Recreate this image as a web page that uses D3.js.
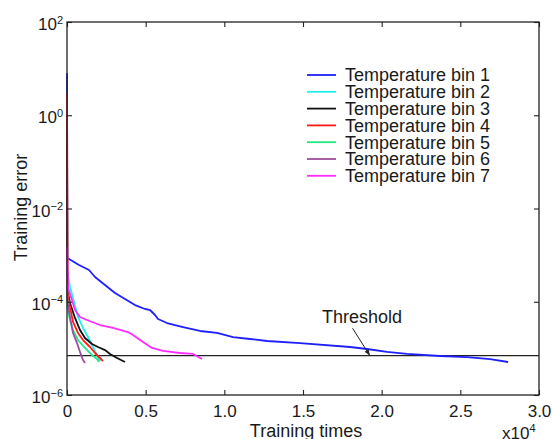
<!DOCTYPE html>
<html>
<head>
<meta charset="utf-8">
<script src="https://cdn.jsdelivr.net/npm/d3@7"></script>
<style>
  body { margin: 0; background: #fff; }
  text { font-family: "Liberation Sans", Arial, sans-serif; fill: #1a1a1a; }
</style>
</head>
<body>
<script>
var outerWidth = 552, outerHeight = 439;
var margin = { top: 22, right: 13, bottom: 44, left: 67 };
var width = outerWidth - margin.left - margin.right,
  height = outerHeight - margin.top - margin.bottom;

// ticks
var xTicks = [0, 5000, 10000, 15000, 20000, 25000, 30000];
var yTickExps = [-6, -4, -2, 0, 2];

// series: [training times, training error]
var seriesNames = ["Temperature bin 1", "Temperature bin 2", "Temperature bin 3", "Temperature bin 4",
  "Temperature bin 5", "Temperature bin 6", "Temperature bin 7"];
var seriesColors = ["#1f1fff", "#22f0f0", "#111111", "#ff1a1a", "#22e882", "#9c4f9c", "#ff2bff"];

var bin1 = [[0, 8], [25, 8.7e-4], [763, 6.14e-4], [1398, 4.8e-4], [1780, 3.4e-4], [2415, 2.29e-4],
  [3051, 1.54e-4], [3686, 1.15e-4], [4322, 8.5e-5], [4958, 7.0e-5], [5276, 6.65e-5], [5593, 5.2e-5],
  [5784, 4.27e-5], [6356, 3.5e-5], [7373, 2.87e-5], [8453, 2.36e-5], [9534, 2.14e-5], [10551, 1.75e-5],
  [11631, 1.59e-5], [12712, 1.44e-5], [14812, 1.30e-5], [17991, 1.07e-5], [19072, 9.7e-6],
  [20343, 8.4e-6], [21615, 7.6e-6], [23713, 6.86e-6], [25429, 6.5e-6], [26891, 5.9e-6], [28036, 5.1e-6]];
var bin2 = [[0, 1.0], [20, 4.35e-4], [191, 2.07e-4], [381, 1.20e-4], [699, 4.71e-5], [1017, 2.74e-5],
  [1335, 1.75e-5], [1653, 1.07e-5], [1907, 7.2e-6], [2097, 5.35e-6]];
var bin3 = [[0, 1.0], [20, 1.79e-4], [191, 9.4e-5], [508, 4.49e-5], [826, 2.48e-5], [1144, 1.67e-5],
  [1589, 1.24e-5], [1970, 1.07e-5], [2415, 9.2e-6], [2733, 7.6e-6], [3178, 6.22e-6], [3559, 5.35e-6],
  [3686, 5.1e-6]];
var bin4 = [[0, 3.0], [40, 1.5e-4], [191, 7.7e-5], [381, 3.68e-5], [699, 2.14e-5], [1017, 1.51e-5],
  [1462, 1.07e-5], [1780, 7.96e-6], [2097, 6.22e-6], [2288, 5.35e-6]];
var bin5 = [[0, 1.2e-3], [20, 7.7e-5], [191, 4.06e-5], [381, 2.48e-5], [699, 1.51e-5], [1144, 1.02e-5],
  [1589, 7.2e-6], [1907, 5.9e-6], [2034, 5.1e-6]];
var bin6 = [[0, 1.2e-3], [20, 1.09e-4], [191, 4.71e-5], [381, 2.14e-5], [636, 1.30e-5], [826, 8.4e-6],
  [1017, 5.63e-6], [1144, 4.86e-6]];
var bin7 = [[0, 1.5e-3], [60, 2.0e-4], [318, 1.09e-4], [508, 6.65e-5], [826, 4.71e-5], [1271, 4.06e-5],
  [2097, 3.17e-5], [2924, 2.74e-5], [3877, 2.24e-5], [4195, 1.94e-5], [4831, 1.37e-5], [5403, 1.02e-5],
  [6102, 8.8e-6], [7182, 7.96e-6], [8009, 7.6e-6], [8581, 5.9e-6]];
var allSeries = [bin1, bin2, bin3, bin4, bin5, bin6, bin7];

var threshold = 7e-6;
var thresholdLabel = { x: 18750, y: 3.5e-5 };      // text position (data units)
var thresholdArrow = [[18150, 2.7e-5], [19250, 7e-6]];

var x = d3.scaleLinear().domain([0, 30000]).range([0, width]);
var y = d3.scaleLog().domain([1e-6, 1e2]).range([height, 0]);

var svg = d3.select("body").append("svg")
  .attr("width", outerWidth)
  .attr("height", outerHeight);

svg.append("rect").attr("width", outerWidth).attr("height", outerHeight).attr("fill", "#fff");

svg.append("defs").append("marker")
  .attr("id", "arrow")
  .attr("viewBox", "0 0 10 10")
  .attr("refX", 10).attr("refY", 5)
  .attr("markerWidth", 6).attr("markerHeight", 6)
  .attr("orient", "auto")
  .append("path").attr("d", "M0,1 L10,5 L0,9 z").attr("fill", "#222");

var g = svg.append("g")
  .attr("transform", "translate(" + margin.left + "," + margin.top + ")");

var line = d3.line()
  .x(function (d) { return x(d[0]); })
  .y(function (d) { return y(d[1]); });

// threshold line
g.append("line")
  .attr("x1", x(0)).attr("x2", x(30000))
  .attr("y1", y(threshold)).attr("y2", y(threshold))
  .attr("stroke", "#222").attr("stroke-width", 1.3);

// curves
allSeries.forEach(function (s, i) {
  g.append("path")
    .datum(s)
    .attr("d", line)
    .attr("fill", "none")
    .attr("stroke", seriesColors[i])
    .attr("stroke-width", 1.8)
    .attr("stroke-linejoin", "round");
});

// axes: inward ticks on all four sides
function styleAxis(sel) {
  sel.select(".domain").remove();
  sel.selectAll(".tick line").attr("stroke", "#222").attr("stroke-width", 1.1);
  sel.attr("font-family", null).attr("font-size", 17);
}

g.append("g")
  .attr("transform", "translate(0," + height + ")")
  .call(d3.axisBottom(x).tickValues(xTicks).tickSizeInner(-5).tickSizeOuter(0).tickPadding(10)
    .tickFormat(function (d) { return d === 0 ? "0" : (d / 1e4).toFixed(1); }))
  .call(styleAxis);

g.append("g")
  .call(d3.axisTop(x).tickValues(xTicks).tickSizeInner(-5).tickSizeOuter(0).tickFormat(""))
  .call(styleAxis);

var yTicks = yTickExps.map(function (e) { return Math.pow(10, e); });

var yAx = g.append("g")
  .call(d3.axisLeft(y).tickValues(yTicks).tickSizeInner(-5).tickSizeOuter(0).tickPadding(4)
    .tickFormat(function () { return ""; }))
  .call(styleAxis);

yAx.selectAll(".tick text").each(function (d) {
  var e = Math.round(Math.log10(d));
  var t = d3.select(this).attr("dy", "0.45em");
  t.text("10");
  t.append("tspan").attr("dy", "-0.6em").attr("font-size", 11).text(e < 0 ? "\u2212" + (-e) : e);
});

g.append("g")
  .attr("transform", "translate(" + width + ",0)")
  .call(d3.axisRight(y).tickValues(yTicks).tickSizeInner(-5).tickSizeOuter(0).tickFormat(""))
  .call(styleAxis);

// frame
g.append("rect")
  .attr("width", width).attr("height", height)
  .attr("fill", "none").attr("stroke", "#222").attr("stroke-width", 1.3);

// threshold annotation
g.append("text")
  .attr("x", x(thresholdLabel.x)).attr("y", y(thresholdLabel.y))
  .attr("text-anchor", "middle").attr("font-size", 18)
  .text("Threshold");

g.append("path")
  .datum(thresholdArrow)
  .attr("d", line)
  .attr("stroke", "#222").attr("stroke-width", 1)
  .attr("marker-end", "url(#arrow)");

// legend
var legend = g.append("g").attr("transform", "translate(240,53)");
var rows = legend.selectAll("g").data(seriesNames).enter().append("g")
  .attr("transform", function (d, i) { return "translate(0," + (i * 16.8) + ")"; });
rows.append("line")
  .attr("x1", 0).attr("x2", 29)
  .attr("stroke", function (d, i) { return seriesColors[i]; })
  .attr("stroke-width", 1.8);
rows.append("text")
  .attr("x", 38).attr("dy", "0.36em")
  .attr("font-size", 18)
  .text(function (d) { return d; });

// axis titles
svg.append("text")
  .attr("x", margin.left + width / 2 + 3).attr("y", 437)
  .attr("text-anchor", "middle").attr("font-size", 18)
  .text("Training times");

var mult = svg.append("text")
  .attr("x", 502).attr("y", 439)
  .attr("font-size", 17)
  .text("x10");
mult.append("tspan").attr("dy", "-0.6em").attr("font-size", 11).text("4");

svg.append("text")
  .attr("transform", "translate(27," + (margin.top + height / 2 - 1) + ") rotate(-90)")
  .attr("text-anchor", "middle").attr("font-size", 18)
  .text("Training error");
</script>
</body>
</html>
